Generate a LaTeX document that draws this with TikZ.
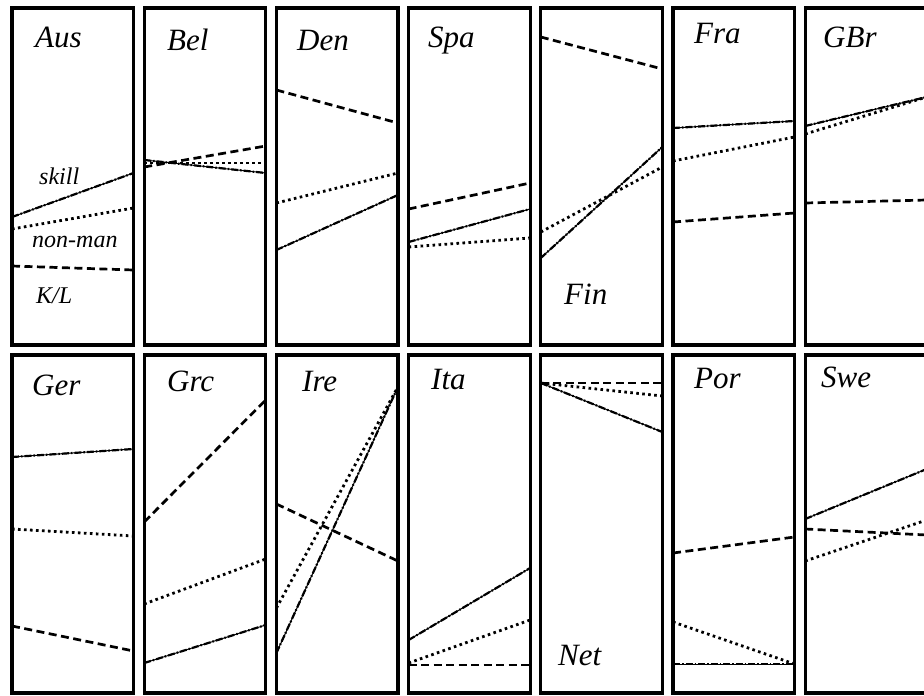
\documentclass[tikz,border=0pt]{standalone}
\usepackage{fontspec}
\setmainfont{Liberation Serif}
\usepackage{tikz}
\usetikzlibrary{positioning,calc}

\tikzset{
  panelbox/.style={draw, line width=3.2pt},
  skillline/.style={line width=1pt, preaction={draw, line width=2.2pt, dash pattern=on 7pt off 2pt on 1.5pt off 2pt}},
  nonmanline/.style={line width=2.8pt, dash pattern=on 2.6pt off 3.4pt},
  klline/.style={line width=2.7pt, dash pattern=on 8pt off 4.5pt},
  country/.style={anchor=base west, font=\fontsize{31}{33}\selectfont\itshape, inner sep=0pt},
  series/.style={anchor=base west, font=\fontsize{24}{26}\selectfont\itshape, inner sep=0pt}
}

\begin{document}
\begin{tikzpicture}[x=1pt, y=-1pt]
    \useasboundingbox (0,0) rectangle (924,696);
    \clip (0,0) rectangle (924,696);

    % panel frames, two rows of seven
    \foreach \i in {0,...,6} {
        \draw[panelbox] (12+132.2*\i, 8) rectangle (133.5+132.2*\i, 345);
        \draw[panelbox] (12+132.2*\i, 355) rectangle (133.5+132.2*\i, 693);
    }

    % top row: skill / non-man / K/L, left and right end values
    \foreach \i/\sa/\sb/\na/\nb/\ka/\kb in {
        0/217/173/229/208/266/270,
        1/160/173/163/163/167/146,
        2/250/195/203/173/90/123,
        3/242/209/247/238/209/183,
        4/258/147/232/167/37/69,
        5/128/121/161/137/222/213,
        6/126/97/134/97/203/200} {
        \draw[klline] (12+132.2*\i, \ka) -- (133.5+132.2*\i, \kb);
        \draw[nonmanline] (12+132.2*\i, \na) -- (133.5+132.2*\i, \nb);
        \draw[skillline] (12+132.2*\i, \sa) -- (133.5+132.2*\i, \sb);
    }

    % bottom row
    \foreach \i/\sa/\sb/\na/\nb/\ka/\kb in {
        0/457/449/529/536/626/651,
        1/663/625/604/559/522/400,
        2/653/387/608/387/504/561,
        3/640/568/663/620/665/665,
        4/383/432/383/396/383/383,
        5/664/664/622/664/553/537,
        6/519/469/561/520/529/535} {
        \draw[klline] (12+132.2*\i, \ka) -- (133.5+132.2*\i, \kb);
        \draw[nonmanline] (12+132.2*\i, \na) -- (133.5+132.2*\i, \nb);
        \draw[skillline] (12+132.2*\i, \sa) -- (133.5+132.2*\i, \sb);
    }

    % country names
    \node[country] (aus) at (35, 47) {Aus};
    \node[country] (bel) at (167, 50) {Bel};
    \node[country] (den) at (297, 50) {Den};
    \node[country] (spa) at (428, 47) {Spa};
    \node[country] (fin) at (564, 304) {Fin};
    \node[country] (fra) at (694, 43) {Fra};
    \node[country] (gbr) at (823, 47) {GBr};
    \node[country] (ger) at (32, 395) {Ger};
    \node[country] (grc) at (167, 391) {Grc};
    \node[country] (ire) at (302, 391) {Ire};
    \node[country] (ita) at (431, 389) {Ita};
    \node[country] (net) at (558, 665) {Net};
    \node[country] (por) at (694, 388) {Por};
    \node[country] (swe) at (821, 387) {Swe};

    % series key, first panel only
    \node[series] (skill) at (39, 184) {skill};
    \node[series] (nonman) at (32, 247) {non-man};
    \node[series] (kl) at (36, 303) {K/L};
\end{tikzpicture}
\end{document}
